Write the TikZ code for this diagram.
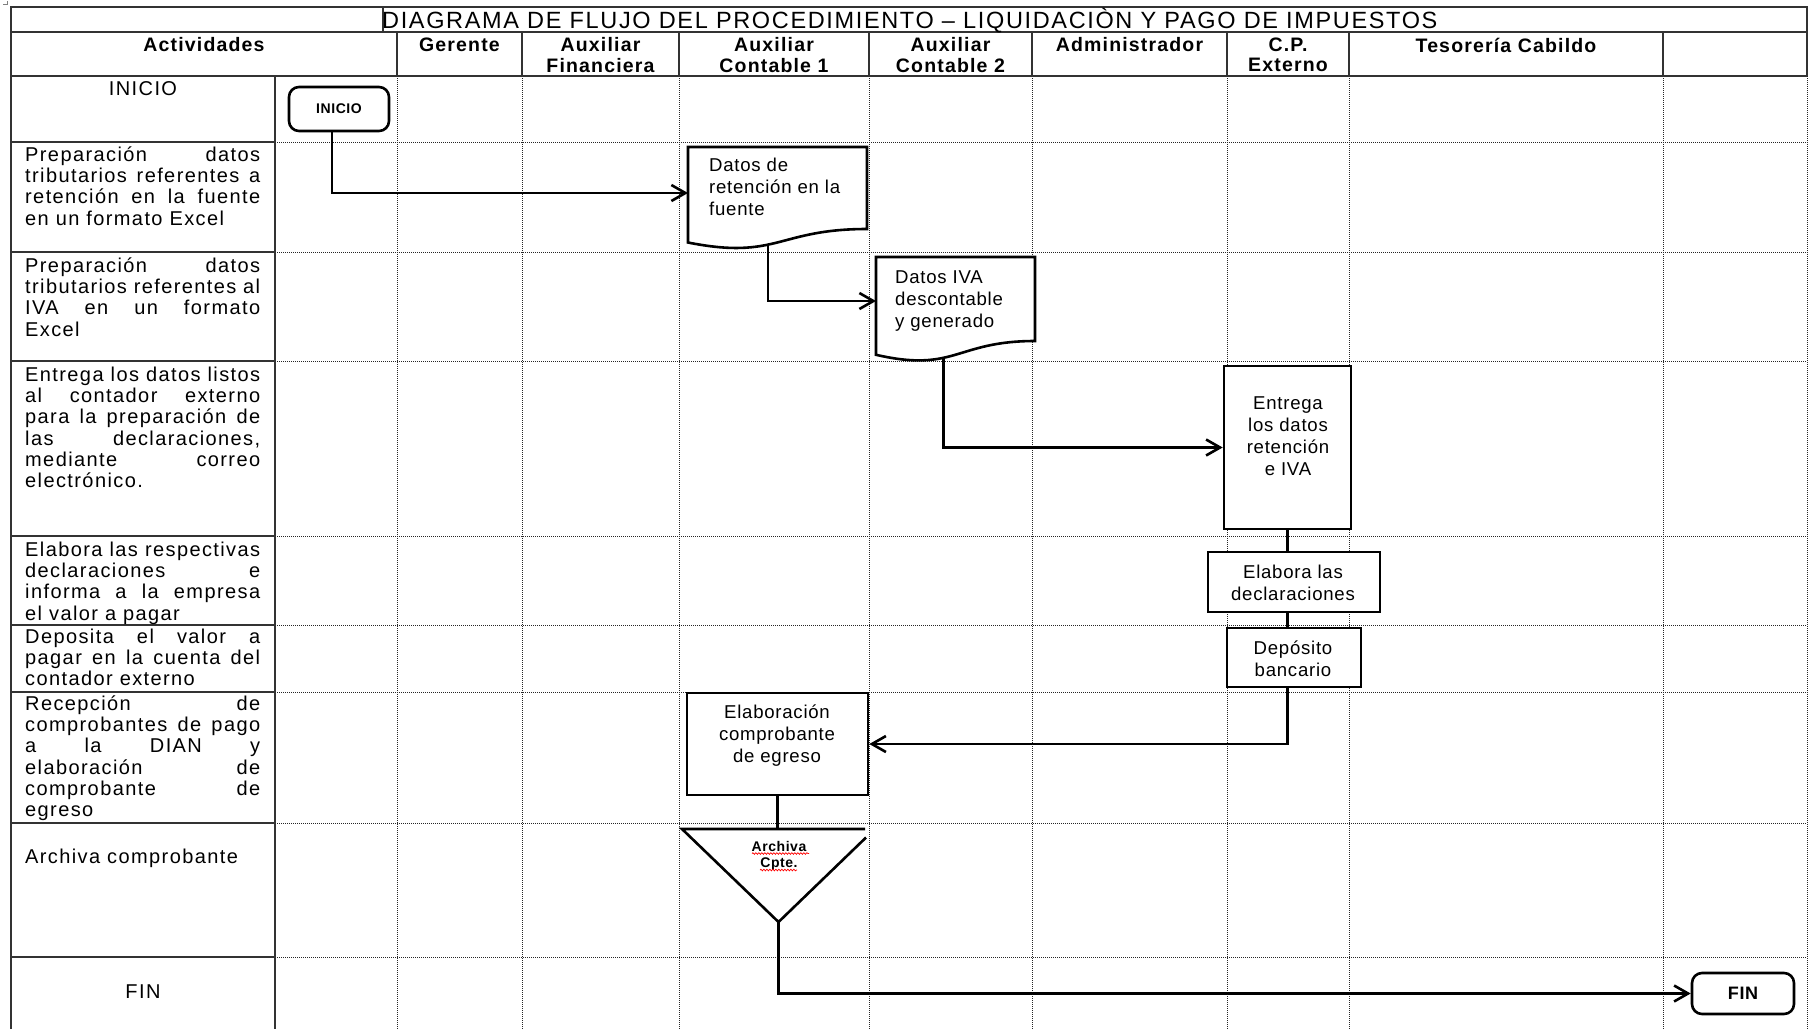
\documentclass[tikz,border=0pt]{standalone}
\usepackage{fontspec}
\setmainfont{Liberation Sans}
\newfontfamily\actfont[LetterSpace=7]{Liberation Sans}
\newfontfamily\shapefont[LetterSpace=4]{Liberation Sans}
\newfontfamily\headfont[LetterSpace=6]{Liberation Sans}
\newfontfamily\titlefont[LetterSpace=7]{Liberation Sans}
\usetikzlibrary{arrows.meta,decorations.pathmorphing}
% one justified line of the activity column
\newcommand{\actline}[1]{\makebox[235pt][s]{#1}}

\begin{document}
\begin{tikzpicture}[x=1pt,y=-1pt,
  solidrule/.style={line width=1.6pt, draw=black!80},
  dotrule/.style={line width=1pt, draw=black!85, dash pattern=on 1pt off 1pt},
  acttext/.style={anchor=north west, inner sep=0pt, align=left,
    font=\actfont\fontsize{20}{21.3}\selectfont},
  actcenter/.style={anchor=north, inner sep=0pt, align=center,
    font=\actfont\fontsize{20}{21.3}\selectfont},
  headtext/.style={anchor=north, inner sep=0pt, align=center,
    font=\headfont\bfseries\fontsize{19.5}{20}\selectfont},
  shapetext/.style={inner sep=0pt, font=\shapefont\fontsize{18.6}{22}\selectfont},
  smallbold/.style={font=\shapefont\bfseries\fontsize{14}{16}\selectfont},
  procbox/.style={draw, fill=white, line width=2.6pt, inner sep=0pt, rectangle},
  termbox/.style={procbox, rounded corners=10pt},
  ghost/.style={inner sep=0pt, outer sep=0pt, rectangle},
  outline/.style={draw, fill=white, line width=2.6pt, line join=miter},
  flow/.style={line width=2.6pt, -{Straight Barb[length=14pt,width=16pt]}},
  link/.style={line width=2.6pt},
  spell/.style={red, line width=0.7pt, decorate,
    decoration={snake, segment length=3pt, amplitude=0.8pt}}
]
\useasboundingbox (0,0) rectangle (1815,1029);

% small corner mark
\draw[gray, line width=0.6pt] (3,4.5) -- (7,4.5) -- (7,1);

% ---------- table grid ----------
\foreach \yy in {142,252,361,536,625,692,823,957} {
  \draw[solidrule] (11,\yy) -- (275,\yy);
  \draw[dotrule] (275,\yy) -- (1807,\yy);
}
\foreach \xx in {397,522,679,869,1032,1227,1349,1663} {
  \draw[solidrule] (\xx,32) -- (\xx,76);
  \draw[dotrule] (\xx,76) -- (\xx,1029);
}
\draw[dotrule] (1807,76) -- (1807,1029);
\draw[solidrule] (275,76) -- (275,1029);
\draw[solidrule] (11,1029) -- (11,7) -- (1807,7) -- (1807,76);
\draw[solidrule] (11,32) -- (1807,32);
\draw[solidrule] (11,76) -- (1807,76);
\draw[solidrule] (383,7) -- (383,32);

% ---------- title and column headers ----------
\node[anchor=base west, inner sep=0pt, font=\titlefont\fontsize{23.5}{26}\selectfont] (title) at (382,28.5)
  {DIAGRAMA DE FLUJO DEL PROCEDIMIENTO – LIQUIDACIÒN Y PAGO DE IMPUESTOS};
\node[headtext] (hact) at (204,37.5) {\strut Actividades};
\node[headtext] (hger) at (459.5,37.5) {\strut Gerente};
\node[headtext] (hfin) at (600.5,37.5) {\strut Auxiliar\\Financiera};
\node[headtext] (hc1) at (774,37.5) {\strut Auxiliar\\Contable 1};
\node[headtext] (hc2) at (950.5,37.5) {\strut Auxiliar\\Contable 2};
\node[headtext] (hadm) at (1129.5,37.5) {\strut Administrador};
\node[headtext] (hcp) at (1288,37.5) {\strut C.P.\\Externo};
\node[headtext] (htes) at (1506,37.5) {\strut Tesorería Cabildo};

% ---------- activity descriptions ----------
\node[actcenter] (a0) at (143,80.1) {\strut INICIO};
\node[acttext] (a1) at (25,146.1) {\actline{\strut Preparación datos}\\
  \actline{tributarios referentes a}\\ \actline{retención en la fuente}\\ en un formato Excel};
\node[acttext] (a2) at (25,257.1) {\actline{\strut Preparación datos}\\
  \actline{tributarios referentes al}\\ \actline{IVA en un formato}\\ Excel};
\node[acttext] (a3) at (25,366.1) {\actline{\strut Entrega los datos listos}\\
  \actline{al contador externo}\\ \actline{para la preparación de}\\
  \actline{las declaraciones,}\\ \actline{mediante correo}\\ electrónico.};
\node[acttext] (a4) at (25,541.1) {\actline{\strut Elabora las respectivas}\\
  \actline{declaraciones e}\\ \actline{informa a la empresa}\\ el valor a pagar};
\node[acttext] (a5) at (25,628.1) {\actline{\strut Deposita el valor a}\\
  \actline{pagar en la cuenta del}\\ contador externo};
\node[acttext] (a6) at (25,695.1) {\actline{\strut Recepción de}\\
  \actline{comprobantes de pago}\\ \actline{a la DIAN y}\\
  \actline{elaboración de}\\ \actline{comprobante de}\\ egreso};
\node[acttext] (a7) at (25,848.1) {\strut Archiva comprobante};
\node[actcenter] (a8) at (143,983.1) {\strut FIN};

% ---------- flow shapes ----------
\node[termbox, smallbold, minimum width=100pt, minimum height=44pt] (ini) at (339,109) {INICIO};

\node[ghost, minimum width=179pt, minimum height=92pt] (dret) at (777.5,193) {};
\draw[outline] (688,147) -- (867,147) -- (867,229)
  .. controls (777.5,229) and (777.5,260.3) .. (688,242.5) coordinate[pos=0.57] (dret-out) -- cycle;
\node[shapetext, anchor=north west, align=left] (dret-t) at (709,156.3)
  {\strut Datos de\\retención en la\\fuente};

\node[ghost, minimum width=159pt, minimum height=88pt] (diva) at (955.5,301) {};
\draw[outline] (876,257) -- (1035,257) -- (1035,341)
  .. controls (955.5,341) and (955.5,373) .. (876,354.8) coordinate[pos=0.6] (diva-out) -- cycle;
\node[shapetext, anchor=north west, align=left] (diva-t) at (895,268.3)
  {\strut Datos IVA\\descontable\\y generado};

\node[procbox, minimum width=127pt, minimum height=163pt] (entr) at (1287.5,447.5) {};
\node[shapetext, anchor=north, align=center] (entr-t) at (1288,394.3)
  {\strut Entrega\\los datos\\retención\\e IVA};

\node[procbox, minimum width=172pt, minimum height=60pt] (elab) at (1294,582) {};
\node[shapetext, anchor=north, align=center] (elab-t) at (1293,563.3)
  {\strut Elabora las\\declaraciones};

\node[procbox, minimum width=134pt, minimum height=59pt] (depo) at (1294,657.5) {};
\node[shapetext, anchor=north, align=center] (depo-t) at (1293,639.3)
  {\strut Depósito\\bancario};

\node[procbox, minimum width=181pt, minimum height=102pt] (elabc) at (777.5,744) {};
\node[shapetext, anchor=north, align=center] (elabc-t) at (777,703.3)
  {\strut Elaboración\\comprobante\\de egreso};

\node[ghost, minimum width=193pt, minimum height=93pt] (arch) at (778.5,875.5) {};
\draw[outline] (865,829) -- (682,829) -- (arch.south) -- (866,837.5);
\node[smallbold, inner sep=0pt, anchor=north, align=center] (arch-t) at (779,840.3)
  {\strut Archiva\\Cpte.};
\draw[spell] (752,853.5) -- (809,853.5);
\draw[spell] (760,870) -- (797,870);

\node[termbox, font=\shapefont\bfseries\fontsize{18}{20}\selectfont,
  minimum width=102pt, minimum height=41pt] (fin) at (1743,993.5) {FIN};

% ---------- connectors ----------
\draw[flow] ([xshift=-7pt]ini.south) |- (dret.west);
\draw[flow] (dret-out) |- (diva.west);
\draw[flow] (diva-out) |- (entr.west);
\draw[link] (entr.south) -- (entr.south |- elab.north);
\draw[link] (elab.south -| entr.south) -- (depo.north -| entr.south);
\draw[flow] (depo.south -| entr.south) |- (elabc.east);
\draw[link] (elabc.south) -- (elabc.south |- arch.north);
\draw[flow] (arch.south) |- (fin.west);
\end{tikzpicture}
\end{document}
